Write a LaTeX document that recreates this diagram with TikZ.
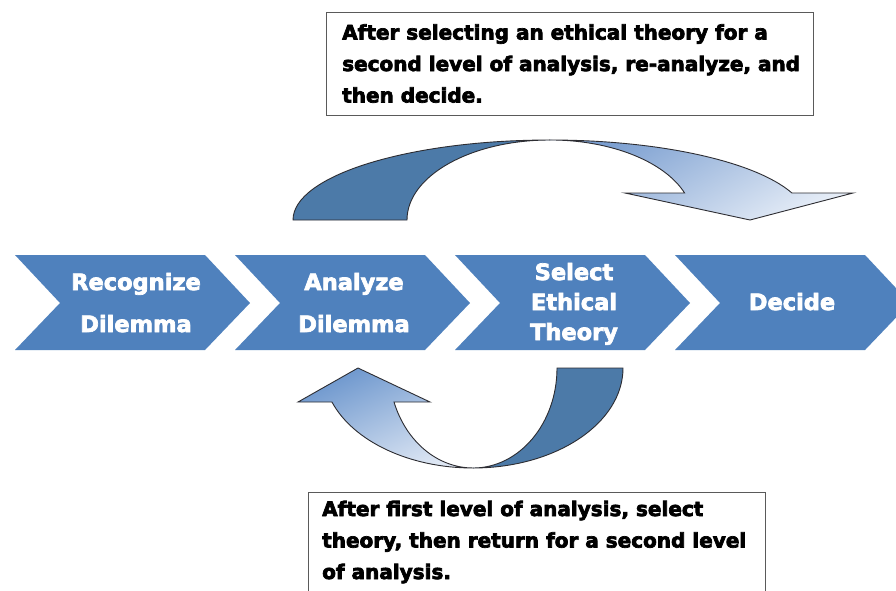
\documentclass[tikz,border=0pt]{standalone}
\usepackage{fontspec}
\setmainfont{DejaVu Sans}
\newcommand\thicktext[1]{\special{pdf:literal direct 2 Tr 0.7 w}#1\special{pdf:literal direct 0 Tr}}
\definecolor{chev}{RGB}{79,129,189}
\definecolor{darkrib}{RGB}{76,122,168}
\definecolor{ltopA}{RGB}{122,158,208}
\definecolor{ltopB}{RGB}{230,237,247}
\definecolor{lbotA}{RGB}{108,150,205}
\definecolor{lbotB}{RGB}{222,231,244}
\definecolor{outl}{RGB}{45,45,50}
\definecolor{boxgray}{RGB}{90,90,90}
\tikzset{
  chevshape/.style={fill=chev},
  ribbon/.style={draw=outl, line width=0.9pt},
  chevtxt/.style={text=white, font=\fontsize{22.5}{42}\selectfont\bfseries, align=center, inner sep=0pt, anchor=base},
  chevtxtb/.style={chevtxt, font=\fontsize{22.5}{30}\selectfont\bfseries},
  boxtxt/.style={font=\fontsize{20}{31.5}\selectfont\bfseries, align=left, inner sep=0pt, anchor=base west},
  notebox/.style={draw=boxgray, line width=1pt, inner sep=0pt, anchor=north west},
}
\begin{document}
\begin{tikzpicture}[x=1pt,y=-1pt]
\useasboundingbox (0,0) rectangle (896,590);
\clip (0,0) rectangle (896,590);
\fill[white] (0,0) rectangle (896,590);
% chevrons
\foreach \x in {15,235,455,675}{
  \fill[chevshape] (\x,255) -- (\x+190,255) -- (\x+235,303) -- (\x+190,350) -- (\x,350) -- (\x+45,303) -- cycle;
}
\node[chevtxt] (c1) at (136,332) {\thicktext{Recognize}\\\thicktext{Dilemma}};
\node[chevtxt] (c2) at (354,332) {\thicktext{Analyze}\\\thicktext{Dilemma}};
\node[chevtxtb] (c3) at (574,340) {\thicktext{Select}\\\thicktext{Ethical}\\\thicktext{Theory}};
\node[chevtxt] (c4) at (792,310) {\thicktext{Decide}};
% top curved arrow
\draw[ribbon, fill=darkrib] (293,220) arc[start angle=180, end angle=270, x radius=257, y radius=80]
   arc[start angle=270, end angle=180, x radius=143, y radius=80] -- cycle;
\draw[ribbon, top color=ltopA, bottom color=ltopB, shading angle=30]
   (550,140) arc[start angle=270, end angle=340.3, x radius=257, y radius=80]
   -- (853,193) -- (750,220) -- (625,193) -- (684.6,193)
   arc[start angle=340.3, end angle=270, x radius=143, y radius=80] -- cycle;
% bottom curved arrow
\draw[ribbon, top color=lbotA, bottom color=lbotB, shading angle=25]
   (473,468) arc[start angle=90, end angle=160.1, x radius=150, y radius=100]
   -- (298,402) -- (358,368) -- (430,402) -- (394,402)
   arc[start angle=160.1, end angle=90, x radius=84, y radius=100] -- cycle;
\draw[ribbon, fill=darkrib] (623,368) arc[start angle=0, end angle=90, x radius=150, y radius=100]
   arc[start angle=90, end angle=0, x radius=84, y radius=100] -- cycle;
% note boxes
\node[notebox, minimum width=487pt, minimum height=103pt] (topbox) at (326,12) {};
\node[boxtxt] (toptext) at (342,102.5) {\thicktext{After selecting an ethical theory for a}\\\thicktext{second level of analysis, re-analyze, and}\\\thicktext{then decide.}};
\node[notebox, minimum width=457pt, minimum height=120pt] (botbox) at (308,492) {};
\node[boxtxt] (bottext) at (322,579) {\thicktext{After first level of analysis, select}\\\thicktext{theory, then return for a second level}\\\thicktext{of analysis.}};
\end{tikzpicture}
\end{document}
